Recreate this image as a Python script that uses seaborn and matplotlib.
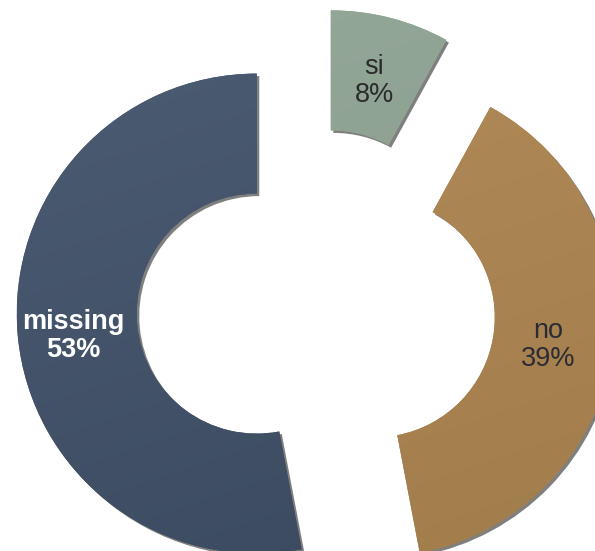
import matplotlib
matplotlib.use("Agg")
import matplotlib.pyplot as plt
import matplotlib.colors as mcolors
import numpy as np
import seaborn as sns

sns.set_theme(style="white")
plt.rcParams["font.family"] = ["Liberation Sans", "DejaVu Sans"]

# Survey answers
categories = ["si", "no", "missing"]
shares = [8, 39, 53]
colors = ["#8C9F91", "#A98350", "#44546A"]
# lighter (top) and darker (bottom) tones for the shaded fill
light_tones = ["#94A898", "#B08A57", "#4B5B72"]
dark_tones = ["#86998B", "#A27D4C", "#3B4A5F"]
text_colors = ["#2B2B2B", "#2B2B33", "#FFFFFF"]
text_weights = ["normal", "normal", "bold"]
label_radius = [0.73, 0.73, 0.77]
label_angle_shift = [0.0, 0.0, 1.5]

W, H = 595, 551
fig = plt.figure(figsize=(W / 100, H / 100), dpi=100)
ax = fig.add_axes([0, 0, 1, 1])

center = (316, 243)
radius = 240
hole = 120
offset = 59.5

# drop shadow under each exploded segment
ax.pie(shares, startangle=90, counterclock=False,
       center=(center[0] + 2.5, center[1] - 2.5), radius=radius,
       explode=[offset] * 3, colors=["#7F7F7F"] * 3,
       wedgeprops=dict(width=radius - hole, linewidth=0), frame=True)

wedges, _ = ax.pie(shares, startangle=90, counterclock=False,
                   center=center, radius=radius,
                   explode=[offset] * 3, colors=colors,
                   wedgeprops=dict(width=radius - hole, linewidth=0),
                   frame=True)

# soft diagonal shading clipped to each segment
for w, lt, dk in zip(wedges, light_tones, dark_tones):
    cx, cy = w.center
    cmap = mcolors.LinearSegmentedColormap.from_list("shade", [dk, lt])
    yy, xx = np.mgrid[0:1:200j, 0:1:200j]
    grad = 0.75 * yy + 0.25 * (1 - xx)
    im = ax.imshow(grad, cmap=cmap, origin="lower",
                   extent=(cx - radius, cx + radius, cy - radius, cy + radius),
                   interpolation="bilinear", zorder=w.get_zorder() + 0.1)
    im.set_clip_path(w)

ax.set_xlim(0, W)
ax.set_ylim(0, H)
ax.set_aspect("equal")
ax.axis("off")

for w, cat, val, tc, tw, lr, sh in zip(wedges, categories, shares, text_colors,
                                       text_weights, label_radius,
                                       label_angle_shift):
    mid = np.deg2rad((w.theta1 + w.theta2) / 2 + sh)
    cx, cy = w.center
    x = cx + lr * radius * np.cos(mid)
    y = cy + lr * radius * np.sin(mid)
    ax.text(x, y, f"{cat}\n{val}%", ha="center", va="center",
            fontsize=19.5, color=tc, fontweight=tw, linespacing=1.1,
            zorder=10)

fig.savefig("out.png", dpi=100, facecolor="white")
